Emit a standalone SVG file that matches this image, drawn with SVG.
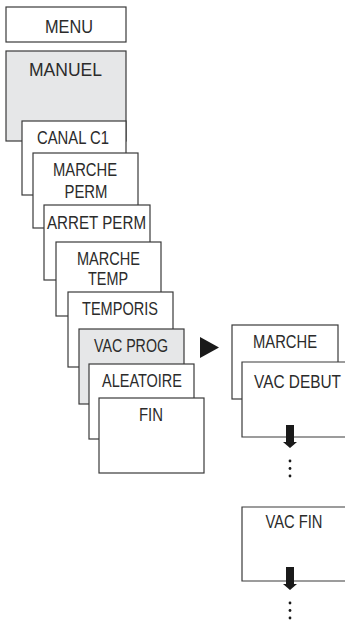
<svg xmlns="http://www.w3.org/2000/svg" width="345" height="623" viewBox="0 0 345 623">
<style>
.b{fill:#fff;stroke:#3a3a3a;stroke-width:1.2}
.g{fill:#e6e7e8;stroke:#3a3a3a;stroke-width:1.2}
text{font-family:"Liberation Sans",Arial,sans-serif;font-size:19px;fill:#2b2b2b;text-anchor:middle}
.ar{fill:#1a1a1a}
</style>
<rect width="345" height="623" fill="#fff"/>
<g id="menu"><rect class="b" x="6" y="7" width="120" height="35"/><text x="69" y="33" textLength="48" lengthAdjust="spacingAndGlyphs">MENU</text></g>
<g id="manuel"><rect class="g" x="6" y="51" width="120" height="90"/><text x="65.5" y="76" textLength="73" lengthAdjust="spacingAndGlyphs">MANUEL</text></g>
<g id="canal"><rect class="b" x="22" y="121" width="104" height="74"/><text x="73" y="144" textLength="72" lengthAdjust="spacingAndGlyphs">CANAL C1</text></g>
<g id="marche-perm"><rect class="b" x="33" y="153" width="105" height="75"/><text x="85" y="176" textLength="64" lengthAdjust="spacingAndGlyphs">MARCHE</text><text x="86" y="198" textLength="43" lengthAdjust="spacingAndGlyphs">PERM</text></g>
<g id="arret-perm"><rect class="b" x="44" y="205" width="106" height="75"/><text x="96.5" y="229" textLength="99" lengthAdjust="spacingAndGlyphs">ARRET PERM</text></g>
<g id="marche-temp"><rect class="b" x="56" y="242" width="105" height="74"/><text x="108.5" y="265" textLength="63" lengthAdjust="spacingAndGlyphs">MARCHE</text><text x="108" y="285" textLength="40" lengthAdjust="spacingAndGlyphs">TEMP</text></g>
<g id="temporis"><rect class="b" x="68" y="292" width="105" height="75"/><text x="120" y="315" textLength="76" lengthAdjust="spacingAndGlyphs">TEMPORIS</text></g>
<g id="vac-prog"><rect class="g" x="79" y="329" width="105" height="75"/><text x="131" y="352" textLength="74" lengthAdjust="spacingAndGlyphs">VAC PROG</text></g>
<g id="aleatoire"><rect class="b" x="89" y="364" width="105" height="75"/><text x="142" y="387" textLength="80" lengthAdjust="spacingAndGlyphs">ALEATOIRE</text></g>
<g id="fin"><rect class="b" x="99" y="398" width="105" height="75"/><text x="151" y="421" textLength="24" lengthAdjust="spacingAndGlyphs">FIN</text></g>
<g id="marche-r"><rect class="b" x="232" y="325" width="106" height="74"/><text x="285" y="348" textLength="64" lengthAdjust="spacingAndGlyphs">MARCHE</text></g>
<g id="vac-debut"><path class="b" d="M345,362 H242 V437 H345"/><text transform="translate(297.5 388) scale(0.81 1)" x="0" y="0">VAC DEBUT</text></g>
<g id="vac-fin"><path class="b" d="M345,507 H242 V581 H345"/><text x="294" y="528" textLength="57" lengthAdjust="spacingAndGlyphs">VAC FIN</text></g>
<g id="connectors">
<polygon class="ar" points="200,337 200,358 219,347.5"/>
<polygon class="ar" points="286,425 294,425 294,442 297,442 290,448 283,442 286,442"/>
<circle class="ar" cx="290" cy="461" r="1.4"/><circle class="ar" cx="290" cy="468.5" r="1.4"/><circle class="ar" cx="290" cy="476" r="1.4"/>
<polygon class="ar" points="286,567 294,567 294,584 297,584 290,590 283,584 286,584"/>
<circle class="ar" cx="290" cy="603" r="1.4"/><circle class="ar" cx="290" cy="610.5" r="1.4"/><circle class="ar" cx="290" cy="618" r="1.4"/>
</g>
</svg>
